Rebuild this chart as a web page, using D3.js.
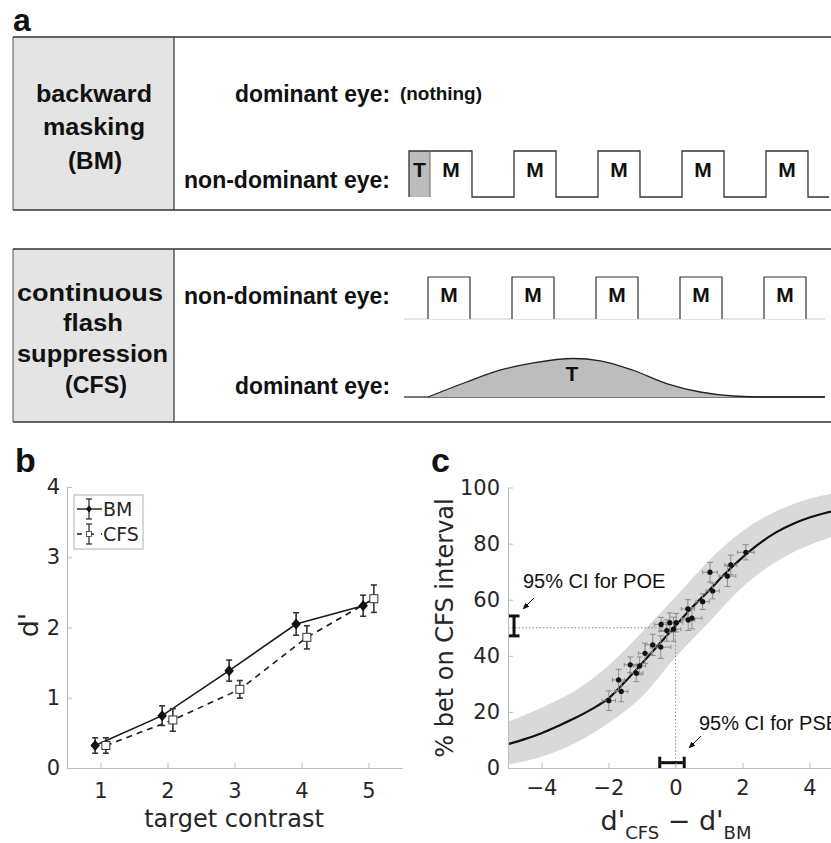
<!DOCTYPE html>
<html><head><meta charset="utf-8">
<script src="https://cdn.jsdelivr.net/npm/d3@7"></script>
<style>body{margin:0;background:#fff} svg{display:block}</style>
</head><body>
<svg id="fig" width="831" height="843"></svg>
<script>
// ================= DATA =================
// Panel a: schematic timing (ms)
const bmTargetFrame = [-50, 0];
const maskOnsets = [0, 200, 400, 600, 800];
const maskDuration = 100;
const bmTraceEnd = 950;
const cfsTraceRange = [-57, 945];
const cfsTargetTime = [0, 92, 171, 251, 346, 410, 488, 568, 648, 727, 806, 945];
const cfsTargetContrast = [0, 0.39, 0.695, 0.885, 1, 0.94, 0.695, 0.35, 0.13, 0.026, 0, 0];

// Panel b
const contrastLevels = [1, 2, 3, 4, 5];
const bmDprime = [0.32, 0.745, 1.386, 2.05, 2.31];
const bmErr    = [0.11, 0.14, 0.15, 0.16, 0.15];
const cfsDprime = [0.32, 0.684, 1.12, 1.86, 2.41];
const cfsErr    = [0.11, 0.16, 0.125, 0.165, 0.195];
const bTicksX = [1, 2, 3, 4, 5];
const bTicksY = [0, 1, 2, 3, 4];
const legendLabels = ["BM", "CFS"];

// Panel c
const dDiff    = [-1.99,-1.70,-1.62,-1.35,-1.17,-1.07,-0.91,-0.68,-0.44,-0.43,-0.26,-0.17,-0.06,0.02,0.37,0.38,0.49,0.81,1.03,1.11,1.55,1.65,2.10];
const pctBet   = [24.0,31.4,27.3,36.8,33.8,36.4,40.9,43.9,43.1,51.2,49.0,51.8,49.5,51.8,56.7,52.8,53.4,59.3,69.8,63.1,68.4,72.4,76.9];
const dDiffErr = [0.20,0.18,0.20,0.18,0.20,0.18,0.20,0.22,0.30,0.20,0.22,0.20,0.22,0.20,0.20,0.20,0.30,0.20,0.22,0.20,0.25,0.18,0.25];
const pctErr   = [3.5,3.8,3.7,2.8,3.0,3.2,3.6,3.8,4.0,2.5,3.8,3.5,4.3,3.3,3.3,3.8,3.8,2.8,3.5,2.8,3.7,3.5,2.7];
const fitX = [-5,-4.5,-4,-3.5,-3,-2.5,-2,-1.5,-1,-0.5,0,0.5,1,1.5,2,2.5,3,3.5,4,4.5,5];
const fitY = [8.5,10.3,12.4,15.0,17.8,21.0,24.8,30.8,37.3,44.0,50.7,57.3,63.3,69.5,75.1,80.0,84.0,87.0,89.3,91.0,92.3];
const bandX = [-5,-4,-3,-2,-1,0,1,2,3,4,5];
const bandUpper = [16.5,21.5,27.5,36.5,48.5,61,74,84.5,91.5,96,98.5];
const bandLower = [1.2,4,8.8,16,25.5,39.5,52,64.5,73.5,79.5,83.5];
const poeCI = [47.1, 54.2];
const pseCI = [-0.47, 0.26];
const pse = 0, poe = 50;
const cTicksX = [-4, -2, 0, 2, 4];
const cTicksY = [0, 20, 40, 60, 80, 100];

// ================= DRAW =================
const svg = d3.select("#fig");
const BOLD = "'Liberation Sans', Arial, Helvetica, sans-serif";
const AX = "'DejaVu Sans', 'Lucida Grande', sans-serif";

svg.append("defs").append("marker")
  .attr("id","arr").attr("viewBox","0 0 10 10").attr("refX",9).attr("refY",5)
  .attr("markerWidth",7).attr("markerHeight",7).attr("orient","auto")
  .append("path").attr("d","M0,1 L10,5 L0,9 z").attr("fill","#111");

function boldText(g, txt, x, y, size, len, anchor) {
  const t = g.append("text").attr("x", x).attr("y", y).text(txt)
    .attr("font-family", BOLD).attr("font-weight", "bold").attr("font-size", size)
    .attr("fill", "#111").attr("text-anchor", anchor || "start");
  if (len) t.attr("textLength", len).attr("lengthAdjust", "spacingAndGlyphs");
  return t;
}

// ---------- Panel a ----------
const pa = svg.append("g");
boldText(pa, "a", 13, 31, 32);

function drawBox(y0, y1) {
  pa.append("rect").attr("x", 13).attr("y", y0).attr("width", 161).attr("height", y1 - y0).attr("fill", "#e4e4e4");
  pa.append("line").attr("x1", 13).attr("x2", 831).attr("y1", y0).attr("y2", y0).attr("stroke", "#333").attr("stroke-width", 1.5);
  pa.append("line").attr("x1", 13).attr("x2", 831).attr("y1", y1).attr("y2", y1).attr("stroke", "#333").attr("stroke-width", 1.5);
  pa.append("line").attr("x1", 13).attr("x2", 13).attr("y1", y0).attr("y2", y1).attr("stroke", "#555").attr("stroke-width", 1);
  pa.append("line").attr("x1", 174).attr("x2", 174).attr("y1", y0).attr("y2", y1).attr("stroke", "#333").attr("stroke-width", 1.2);
}
drawBox(37, 210);
drawBox(249, 422);

const FS = 23;
// top box texts
boldText(pa, "backward", 94, 102, FS, 116, "middle");
boldText(pa, "masking", 94, 135, FS, 102, "middle");
boldText(pa, "(BM)", 95, 169, FS, 54, "middle");
boldText(pa, "dominant eye:", 390, 102, FS, 155, "end");
boldText(pa, "(nothing)", 400, 100, 18, 82);
boldText(pa, "non-dominant eye:", 390, 188, FS, 206, "end");

// BM waveform
const bmTime = d3.scaleLinear().domain([-50, 950]).range([409, 829]);
const bmLevel = d3.scaleLinear().domain([0, 1]).range([197, 151]);
pa.append("rect").attr("x", bmTime(bmTargetFrame[0])).attr("y", bmLevel(1))
  .attr("width", bmTime(bmTargetFrame[1]) - bmTime(bmTargetFrame[0]))
  .attr("height", bmLevel(0) - bmLevel(1)).attr("fill", "#bcbcbc");
const bmPts = [[bmTargetFrame[0], 0], [bmTargetFrame[0], 1]];
maskOnsets.forEach(o => {
  if (o > bmTargetFrame[1]) { bmPts.push([o, 0], [o, 1]); }
  bmPts.push([o + maskDuration, 1], [o + maskDuration, 0]);
});
bmPts.push([bmTraceEnd, 0]);
pa.append("path").attr("d", d3.line().x(d => bmTime(d[0])).y(d => bmLevel(d[1]))(bmPts))
  .attr("fill", "none").attr("stroke", "#333").attr("stroke-width", 1.3);
pa.append("line").attr("x1", bmTime(0)).attr("x2", bmTime(0)).attr("y1", bmLevel(1)).attr("y2", bmLevel(0))
  .attr("stroke", "#666").attr("stroke-width", 1);
boldText(pa, "T", (bmTime(bmTargetFrame[0]) + bmTime(bmTargetFrame[1])) / 2, 177, 21, null, "middle");
maskOnsets.forEach(o => boldText(pa, "M", bmTime(o + maskDuration / 2), 177, 21, null, "middle"));

// bottom box texts
boldText(pa, "continuous", 90, 301, FS, 146, "middle");
boldText(pa, "flash", 93, 331, FS, 60, "middle");
boldText(pa, "suppression", 92.5, 362, FS, 151, "middle");
boldText(pa, "(CFS)", 96, 393, FS, 62, "middle");
boldText(pa, "non-dominant eye:", 390, 304, FS, 206, "end");
boldText(pa, "dominant eye:", 390, 394, FS, 155, "end");

// CFS non-dominant: mask pulses
const cfsTime = d3.scaleLinear().domain([0, 1000]).range([428, 848]);
const cfsLevel = d3.scaleLinear().domain([0, 1]).range([319, 277]);
pa.append("line").attr("x1", cfsTime(cfsTraceRange[0])).attr("x2", cfsTime(cfsTraceRange[1]))
  .attr("y1", cfsLevel(0)).attr("y2", cfsLevel(0)).attr("stroke", "#c8c8c8").attr("stroke-width", 1);
maskOnsets.forEach(o => {
  const p = [[o, 0], [o, 1], [o + maskDuration, 1], [o + maskDuration, 0]];
  pa.append("path").attr("d", d3.line().x(d => cfsTime(d[0])).y(d => cfsLevel(d[1]))(p))
    .attr("fill", "#fff").attr("stroke", "#333").attr("stroke-width", 1.2);
  boldText(pa, "M", cfsTime(o + maskDuration / 2), 302, 21, null, "middle");
});

// CFS dominant: target contrast ramp
const cfsContrast = d3.scaleLinear().domain([0, 1]).range([397, 358.5]);
pa.append("line").attr("x1", cfsTime(cfsTraceRange[0])).attr("x2", cfsTime(cfsTraceRange[1]))
  .attr("y1", cfsContrast(0)).attr("y2", cfsContrast(0)).attr("stroke", "#777").attr("stroke-width", 2);
const tData = cfsTargetTime.map((t, i) => [t, cfsTargetContrast[i]]);
pa.append("path").attr("d", d3.area().x(d => cfsTime(d[0])).y0(cfsContrast(0)).y1(d => cfsContrast(d[1])).curve(d3.curveMonotoneX)(tData))
  .attr("fill", "#bdbdbd");
pa.append("path").attr("d", d3.line().x(d => cfsTime(d[0])).y(d => cfsContrast(d[1])).curve(d3.curveMonotoneX)(tData))
  .attr("fill", "none").attr("stroke", "#222").attr("stroke-width", 1.3);
boldText(pa, "T", 572, 381, 21, null, "middle");

// ---------- axis helper ----------
function styleAxis(g) {
  g.select(".domain").attr("stroke", "#bdbdbd").attr("stroke-width", 1);
  g.selectAll(".tick line").attr("stroke", "#bdbdbd");
  g.selectAll(".tick text").attr("fill", "#262626").attr("font-family", AX).attr("font-size", 21);
}

// ---------- Panel b ----------
const pb = svg.append("g");
boldText(pb, "b", 15, 472, 34);
const xb = d3.scaleLinear().domain([0.5, 5.5]).range([67, 402]);
const yb = d3.scaleLinear().domain([0, 4]).range([768, 487]);
const off = 0.08;

const bm = contrastLevels.map((c, i) => ({x: c - off, y: bmDprime[i], e: bmErr[i]}));
const cf = contrastLevels.map((c, i) => ({x: c + off, y: cfsDprime[i], e: cfsErr[i]}));
const lineB = d3.line().x(d => xb(d.x)).y(d => yb(d.y));
pb.append("path").attr("d", lineB(cf)).attr("fill", "none").attr("stroke", "#1a1a1a").attr("stroke-width", 1.6).attr("stroke-dasharray", "6,5");
pb.append("path").attr("d", lineB(bm)).attr("fill", "none").attr("stroke", "#1a1a1a").attr("stroke-width", 1.6);

function errV(g, x, y1, y2, cap, color, w) {
  g.append("line").attr("x1", x).attr("x2", x).attr("y1", y1).attr("y2", y2).attr("stroke", color).attr("stroke-width", w);
  [y1, y2].forEach(y => g.append("line").attr("x1", x - cap).attr("x2", x + cap).attr("y1", y).attr("y2", y).attr("stroke", color).attr("stroke-width", w));
}
function errH(g, y, x1, x2, cap, color, w) {
  g.append("line").attr("x1", x1).attr("x2", x2).attr("y1", y).attr("y2", y).attr("stroke", color).attr("stroke-width", w);
  [x1, x2].forEach(x => g.append("line").attr("x1", x).attr("x2", x).attr("y1", y - cap).attr("y2", y + cap).attr("stroke", color).attr("stroke-width", w));
}
const diamond = "M0,-5.5 L4.8,0 L0,5.5 L-4.8,0 Z";
bm.forEach(d => {
  errV(pb, xb(d.x), yb(d.y - d.e), yb(d.y + d.e), 3, "#333", 1.6);
  pb.append("path").attr("d", diamond).attr("transform", `translate(${xb(d.x)},${yb(d.y)})`).attr("fill", "#111");
});
cf.forEach(d => {
  errV(pb, xb(d.x), yb(d.y - d.e), yb(d.y + d.e), 3, "#333", 1.6);
  pb.append("rect").attr("x", xb(d.x) - 4).attr("y", yb(d.y) - 4).attr("width", 8).attr("height", 8)
    .attr("fill", "#fff").attr("stroke", "#333").attr("stroke-width", 1);
});

const gbx = pb.append("g").attr("transform", "translate(0,768)")
  .call(d3.axisBottom(xb).tickValues(bTicksX).tickFormat(d3.format("d")).tickSizeInner(-5).tickSizeOuter(0).tickPadding(15));
styleAxis(gbx);
const gby = pb.append("g").attr("transform", "translate(67,0)")
  .call(d3.axisLeft(yb).tickValues(bTicksY).tickFormat(d3.format("d")).tickSizeInner(-5).tickSizeOuter(0).tickPadding(7));
styleAxis(gby);
pb.append("text").attr("x", 234).attr("y", 827).attr("text-anchor", "middle").attr("font-family", AX)
  .attr("font-size", 24).attr("fill", "#262626").text("target contrast");
pb.append("text").attr("transform", "translate(38,625) rotate(-90)").attr("text-anchor", "middle").attr("font-family", AX)
  .attr("font-size", 27).attr("fill", "#262626").text("d'");

// legend
const lg = pb.append("g");
lg.append("rect").attr("x", 74).attr("y", 495).attr("width", 69).attr("height", 54).attr("fill", "#fff").attr("stroke", "#b0b0b0").attr("stroke-width", 1);
const rowY = [509, 534];
lg.append("line").attr("x1", 77).attr("x2", 102).attr("y1", rowY[0]).attr("y2", rowY[0]).attr("stroke", "#1a1a1a").attr("stroke-width", 1.4);
errV(lg, 89, rowY[0] - 10, rowY[0] + 10, 3, "#333", 1.3);
lg.append("path").attr("d", "M0,-3.5 L3,0 L0,3.5 L-3,0 Z").attr("transform", `translate(89,${rowY[0]})`).attr("fill", "#111");
lg.append("line").attr("x1", 77).attr("x2", 102).attr("y1", rowY[1]).attr("y2", rowY[1]).attr("stroke", "#1a1a1a").attr("stroke-width", 1.4).attr("stroke-dasharray", "5,7");
errV(lg, 89, rowY[1] - 10, rowY[1] + 10, 3, "#333", 1.3);
lg.append("rect").attr("x", 86.5).attr("y", rowY[1] - 2.5).attr("width", 5).attr("height", 5).attr("fill", "#fff").attr("stroke", "#333").attr("stroke-width", 0.8);
legendLabels.forEach((l, i) => lg.append("text").attr("x", 103).attr("y", rowY[i] + 7).attr("font-family", AX)
  .attr("font-size", 19).attr("fill", "#262626").text(l));

// ---------- Panel c ----------
const pc = svg.append("g");
boldText(pc, "c", 431, 472, 34);
const xc = d3.scaleLinear().domain([-5, 5]).range([508, 843]);
const yc = d3.scaleLinear().domain([0, 100]).range([768, 487.5]);

const band = bandX.map((x, i) => [x, bandLower[i], bandUpper[i]]);
pc.append("path").attr("d", d3.area().x(d => xc(d[0])).y0(d => yc(d[1])).y1(d => yc(d[2])).curve(d3.curveMonotoneX)(band))
  .attr("fill", "#d9d9d9");

// dotted guides
pc.append("line").attr("x1", xc(-5)).attr("x2", xc(pse)).attr("y1", yc(poe)).attr("y2", yc(poe))
  .attr("stroke", "#8a8a8a").attr("stroke-width", 1).attr("stroke-dasharray", "1.5,2");
pc.append("line").attr("x1", xc(pse)).attr("x2", xc(pse)).attr("y1", yc(poe)).attr("y2", yc(0))
  .attr("stroke", "#8a8a8a").attr("stroke-width", 1).attr("stroke-dasharray", "1.5,2");

const fit = fitX.map((x, i) => [x, fitY[i]]);
pc.append("path").attr("d", d3.line().x(d => xc(d[0])).y(d => yc(d[1])).curve(d3.curveMonotoneX)(fit))
  .attr("fill", "none").attr("stroke", "#111").attr("stroke-width", 2.2);

dDiff.forEach((x, i) => {
  const y = pctBet[i];
  errV(pc, xc(x), yc(y - pctErr[i]), yc(y + pctErr[i]), 3, "#8c8c8c", 1);
  errH(pc, yc(y), xc(x - dDiffErr[i]), xc(x + dDiffErr[i]), 2, "#8c8c8c", 1);
});
dDiff.forEach((x, i) => pc.append("circle").attr("cx", xc(x)).attr("cy", yc(pctBet[i])).attr("r", 2.6).attr("fill", "#111"));

// CI bars
errV(pc, xc(-4.82), yc(poeCI[0]), yc(poeCI[1]), 5.5, "#111", 3);
errH(pc, yc(1.9), xc(pseCI[0]), xc(pseCI[1]), 6, "#111", 3);

const LS = "'Liberation Sans', Arial, sans-serif";
pc.append("text").attr("x", 523).attr("y", 588).attr("font-family", LS).attr("font-size", 20).attr("fill", "#111").text("95% CI for POE");
pc.append("line").attr("x1", 534).attr("y1", 598).attr("x2", 523).attr("y2", 609).attr("stroke", "#111").attr("stroke-width", 1).attr("marker-end", "url(#arr)");
pc.append("text").attr("x", 699).attr("y", 730).attr("font-family", LS).attr("font-size", 20).attr("fill", "#111").text("95% CI for PSE");
pc.append("line").attr("x1", 701).attr("y1", 736).attr("x2", 689).attr("y2", 748).attr("stroke", "#111").attr("stroke-width", 1).attr("marker-end", "url(#arr)");

const gcx = pc.append("g").attr("transform", "translate(0,768)")
  .call(d3.axisBottom(xc).tickValues(cTicksX).tickSizeInner(-5).tickSizeOuter(0).tickPadding(12));
styleAxis(gcx);
const gcy = pc.append("g").attr("transform", "translate(508,0)")
  .call(d3.axisLeft(yc).tickValues(cTicksY).tickSizeInner(-5).tickSizeOuter(0).tickPadding(8));
styleAxis(gcy);

pc.append("text").attr("transform", "translate(453,628) rotate(-90)").attr("text-anchor", "middle")
  .attr("font-family", AX).attr("font-size", 24).attr("fill", "#262626").text("% bet on CFS interval");

const xl = pc.append("text").attr("x", 676).attr("y", 830).attr("text-anchor", "middle")
  .attr("font-family", AX).attr("font-size", 27).attr("fill", "#262626");
xl.append("tspan").text("d'");
xl.append("tspan").attr("font-size", 18).attr("dy", 9).text("CFS");
xl.append("tspan").attr("dy", -9).text(" − d'");
xl.append("tspan").attr("font-size", 18).attr("dy", 9).text("BM");
</script>
</body></html>
